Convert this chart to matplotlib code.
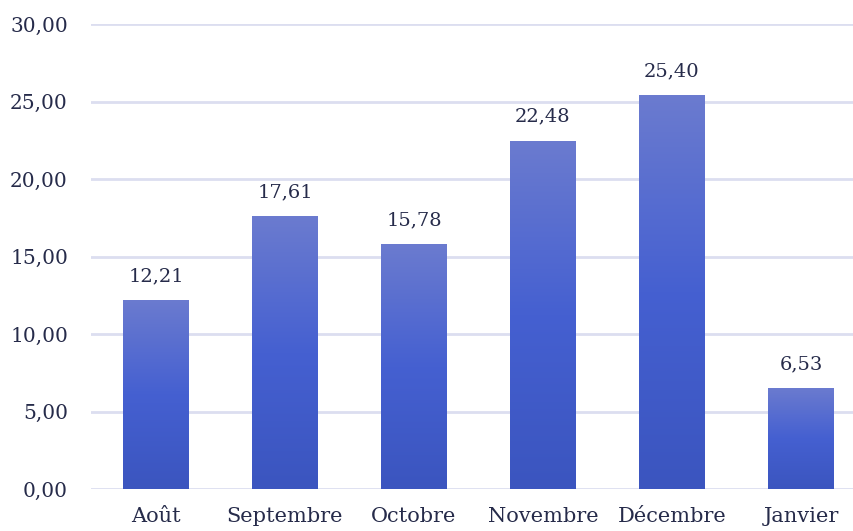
import matplotlib
matplotlib.use("Agg")
import matplotlib.pyplot as plt
import numpy as np
from matplotlib.colors import LinearSegmentedColormap

months = ["Août", "Septembre", "Octobre", "Novembre", "Décembre", "Janvier"]
values = [12.21, 17.61, 15.78, 22.48, 25.40, 6.53]
yticks = [0, 5, 10, 15, 20, 25, 30]

text_color = "#262b4a"
grid_color = "#dcdef0"
plt.rcParams["font.family"] = ["DejaVu Serif"]

W, H = 854, 531
fig = plt.figure(figsize=(W / 100, H / 100), dpi=100)
left, right, bottom, top = 91.5, 854, 489, 24
ax = fig.add_axes([left / W, 1 - bottom / H, (right - left) / W, (bottom - top) / H])

step = 129.0
ax.set_xlim(-0.5, (right - left) / step - 0.5)
ax.set_ylim(0, 30)

cmap = LinearSegmentedColormap.from_list(
    "bar", ["#3b55bf", "#4560d1", "#6b7bcf"])
grad = np.linspace(0, 1, 256).reshape(-1, 1)

bar_w = 0.51
x = np.arange(len(months))
bars = ax.bar(x, values, width=bar_w, color="none", zorder=3)
for b, v in zip(bars, values):
    x0 = b.get_x()
    im = ax.imshow(grad, cmap=cmap, aspect="auto", origin="lower",
                   extent=[x0, x0 + bar_w, 0, v], zorder=3)
    im.set_clip_path(b)
    ax.text(b.get_x() + bar_w / 2, v + 0.95, f"{v:.2f}".replace(".", ","),
            ha="center", va="bottom", fontsize=14, color=text_color)

ax.set_xlim(-0.5, (right - left) / step - 0.5)
ax.set_ylim(0, 30)
ax.set_yticks(yticks)
ax.set_yticklabels([f"{t:.2f}".replace(".", ",") for t in yticks])
ax.set_xticks(x)
ax.set_xticklabels(months)
ax.tick_params(axis="y", length=0, labelsize=14.5, labelcolor=text_color, pad=17)
ax.tick_params(axis="x", length=0, labelsize=15, labelcolor=text_color, pad=13)
ax.grid(axis="y", color=grid_color, linewidth=2, zorder=0)
ax.set_axisbelow(True)
for s in ax.spines.values():
    s.set_visible(False)

fig.savefig("out.png", dpi=100)
